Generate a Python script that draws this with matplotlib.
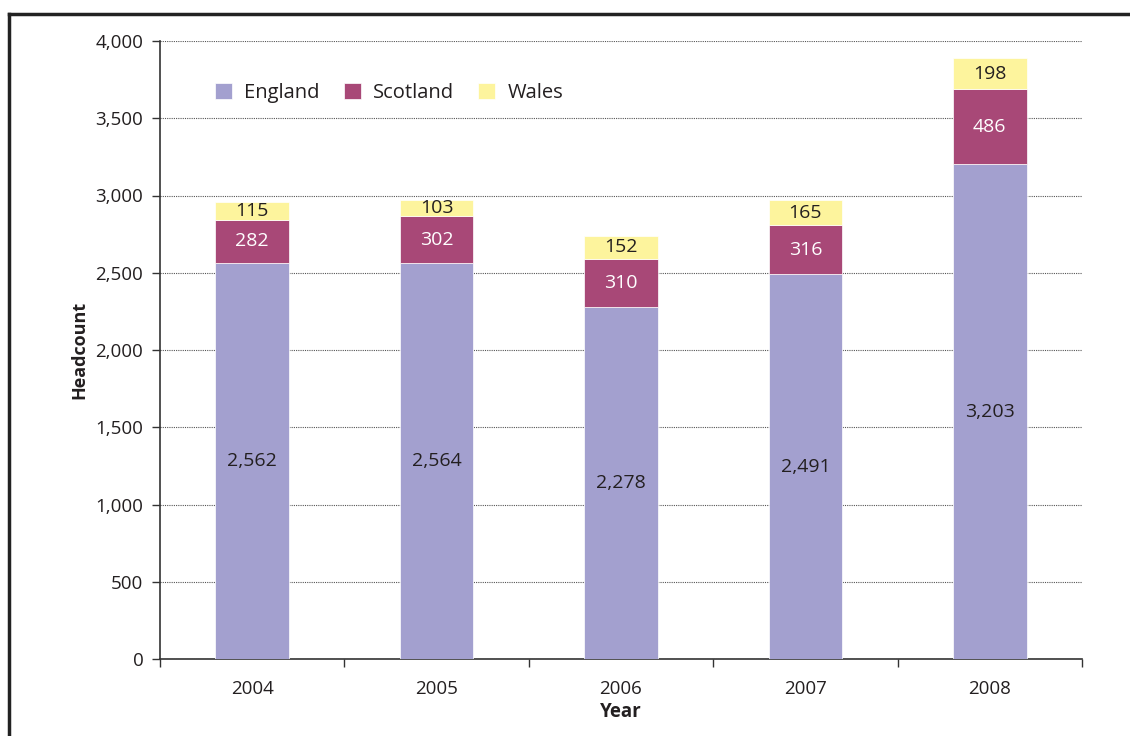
import matplotlib
matplotlib.use("Agg")
import matplotlib.pyplot as plt
from matplotlib.lines import Line2D
import numpy as np

years = ["2004", "2005", "2006", "2007", "2008"]
england = [2562, 2564, 2278, 2491, 3203]
scotland = [282, 302, 310, 316, 486]
wales = [115, 103, 152, 165, 198]

plt.rcParams['font.family'] = ['Open Sans', 'DejaVu Sans']

fig = plt.figure(figsize=(11.3, 7.36), dpi=100)
ax = fig.add_axes([160 / 1130, 1 - 659 / 736, 922 / 1130, 618 / 736])

x = np.arange(len(years))
eng = np.array(england)
sco = np.array(scotland)
wal = np.array(wales)
w = 0.4

colors = {"England": "#a3a0cf", "Scotland": "#a84877", "Wales": "#fdf49d"}
ax.bar(x, eng, w, color=colors["England"], edgecolor="white", linewidth=0.5, label="England", zorder=3)
ax.bar(x, sco, w, bottom=eng, color=colors["Scotland"], edgecolor="white", linewidth=0.5, label="Scotland", zorder=3)
ax.bar(x, wal, w, bottom=eng + sco, color=colors["Wales"], edgecolor="white", linewidth=0.5, label="Wales", zorder=3)

# value labels in the middle of each segment
for i in range(len(years)):
    ax.text(x[i], eng[i] / 2, f"{eng[i]:,}", ha="center", va="center", fontsize=14, color="#231f20", zorder=4)
    ax.text(x[i], eng[i] + sco[i] / 2, f"{sco[i]:,}", ha="center", va="center", fontsize=14, color="white", zorder=4)
    ax.text(x[i], eng[i] + sco[i] + wal[i] / 2, f"{wal[i]:,}", ha="center", va="center", fontsize=14, color="#231f20", zorder=4)

ax.set_xlim(-0.5, len(years) - 0.5)
ax.set_ylim(0, 4000)
ax.set_yticks(range(0, 4001, 500))
ax.set_yticklabels([f"{v:,}" for v in range(0, 4001, 500)])
ax.yaxis.grid(True, linestyle=(0, (1, 1)), color="#555555", linewidth=0.8, zorder=0)

ax.set_xticks(x)
ax.set_xticklabels(years)
ax.set_xticks(np.arange(-0.5, len(years), 1), minor=True)
ax.tick_params(axis="x", which="major", length=0, pad=15, labelsize=13.5, colors="#231f20")
ax.tick_params(axis="x", which="minor", length=6, width=1, direction="out", color="#333333")
ax.tick_params(axis="y", length=6, width=1, direction="out", labelsize=13.5, pad=6, colors="#333333", labelcolor="#231f20")

for s in ["top", "right"]:
    ax.spines[s].set_visible(False)
for s in ["left", "bottom"]:
    ax.spines[s].set_color("#333333")
    ax.spines[s].set_linewidth(1.2)

ax.set_xlabel("Year", fontsize=13.5, fontweight="bold", color="#231f20", labelpad=3)
ax.set_ylabel("Headcount", fontsize=13, fontweight="bold", color="#231f20", labelpad=5)

ax.legend(loc="upper left", bbox_to_anchor=(0.04, 0.962), ncol=3, frameon=False,
          fontsize=14.5, handlelength=0.85, handleheight=0.85, handletextpad=0.6,
          columnspacing=1.2, labelcolor="#231f20")

# outer frame lines (top and left)
fig.add_artist(Line2D([9 / 1130, 1.0], [1 - 14 / 736, 1 - 14 / 736], color="#222222", linewidth=2.5, transform=fig.transFigure))
fig.add_artist(Line2D([9 / 1130, 9 / 1130], [0, 1 - 14 / 736], color="#222222", linewidth=2.5, transform=fig.transFigure))

fig.savefig("out.png", dpi=100)
